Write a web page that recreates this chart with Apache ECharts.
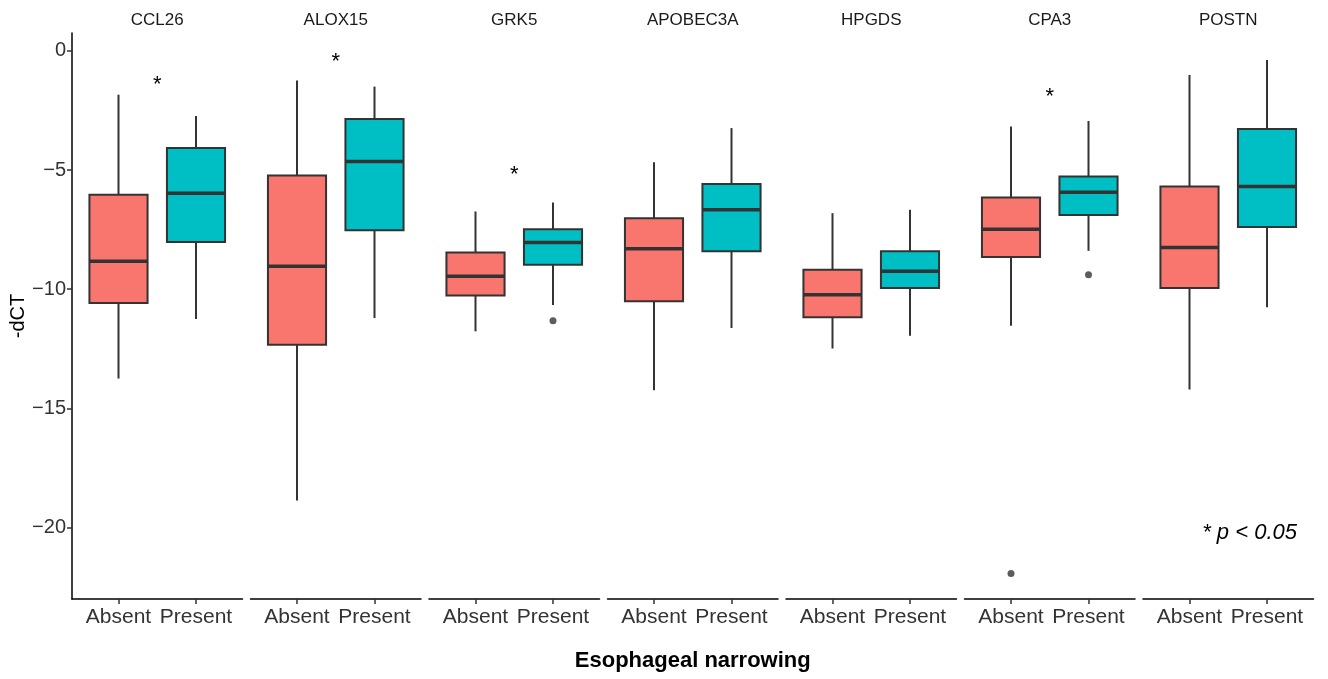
<!DOCTYPE html>
<html>
<head>
<meta charset="utf-8">
<script src="https://cdn.jsdelivr.net/npm/echarts@6/dist/echarts.min.js"></script>
<style>
  html, body { margin: 0; padding: 0; background: #ffffff; }
  #chart { width: 1328px; height: 679px; }
</style>
</head>
<body>
<div id="chart"></div>
<script>
// Gene panels and the two groups drawn in each
const genes = ['CCL26', 'ALOX15', 'GRK5', 'APOBEC3A', 'HPGDS', 'CPA3', 'POSTN'];
const groups = ['Absent', 'Present'];

// Box statistics per gene: [lower whisker, Q1, median, Q3, upper whisker]
const absentStats = [
  [-13.75, -10.58, -8.83, -6.04, -1.84],
  [-18.87, -12.33, -9.04, -5.23, -1.24],
  [-11.77, -10.27, -9.46, -8.46, -6.74],
  [-14.24, -10.51, -8.30, -7.02, -4.67],
  [-12.49, -11.18, -10.23, -9.18, -6.81],
  [-11.53, -8.65, -7.48, -6.15, -3.17],
  [-14.21, -9.95, -8.25, -5.69, -1.01]
];
const presentStats = [
  [-11.25, -8.02, -5.97, -4.08, -2.73],
  [-11.21, -7.53, -4.64, -2.86, -1.50],
  [-10.66, -8.97, -8.04, -7.48, -6.36],
  [-11.63, -8.41, -6.67, -5.59, -3.24],
  [-11.95, -9.95, -9.25, -8.41, -6.67],
  [-8.39, -6.89, -5.93, -5.27, -2.94],
  [-10.76, -7.39, -5.69, -3.28, -0.38]
];

// Outlying points: [gene index, group position (1 = Absent, 2 = Present), value]
const outliers = [
  [2, 2, -11.32],
  [5, 1, -21.93],
  [5, 2, -9.39]
];

// Significance marks placed between the two boxes: [gene index, value]
const sigMarks = [
  [0, -1.43],
  [1, -0.46],
  [2, -5.20],
  [5, -1.94]
];

const yTicks = [-20, -15, -10, -5, 0];
const yRange = [-23, 0.75];

// ---- styling / layout ----
const fills = ['#F8766D', '#00BFC4'];
const ink = '#333333';
const fontFamily = '"Liberation Sans", Arial, Helvetica, sans-serif';
const panelLeft = 72, panelStep = 178.5, panelWidth = 170.5;
const panelTop = 33, panelHeight = 566;
const boxHalf = 0.375;

const minusFmt = v => (v < 0 ? '\u2212' + Math.abs(v) : String(v));

function renderBox(params, api) {
  const x = api.value(0);
  const lo = api.value(1), q1 = api.value(2), med = api.value(3), q3 = api.value(4), hi = api.value(5);
  const tl = api.coord([x - boxHalf, q3]);
  const br = api.coord([x + boxHalf, q1]);
  const pHi = api.coord([x, hi]), pQ3 = api.coord([x, q3]);
  const pLo = api.coord([x, lo]), pQ1 = api.coord([x, q1]);
  const mL = api.coord([x - boxHalf, med]), mR = api.coord([x + boxHalf, med]);
  const whisker = { stroke: ink, lineWidth: 2 };
  return {
    type: 'group',
    children: [
      { type: 'line', shape: { x1: pHi[0], y1: pHi[1], x2: pQ3[0], y2: pQ3[1] }, style: whisker },
      { type: 'line', shape: { x1: pLo[0], y1: pLo[1], x2: pQ1[0], y2: pQ1[1] }, style: whisker },
      { type: 'rect', shape: { x: tl[0], y: tl[1], width: br[0] - tl[0], height: br[1] - tl[1] },
        style: { fill: fills[Math.round(x) - 1], stroke: ink, lineWidth: 2 } },
      { type: 'line', shape: { x1: mL[0], y1: mL[1], x2: mR[0], y2: mR[1] },
        style: { stroke: ink, lineWidth: 3.5 } }
    ]
  };
}

function renderMark(params, api) {
  const p = api.coord([api.value(0), api.value(1)]);
  return {
    type: 'text',
    x: p[0], y: p[1],
    style: { text: '*', fill: '#000', font: '22px ' + fontFamily, align: 'center', verticalAlign: 'middle' }
  };
}

const grid = [], xAxis = [], yAxis = [], series = [], graphic = [];

genes.forEach((gene, i) => {
  const left = panelLeft + i * panelStep;
  grid.push({ left: left, top: panelTop, width: panelWidth, height: panelHeight });

  xAxis.push({
    type: 'value', gridIndex: i, min: 0.4, max: 2.6,
    axisLine: { show: true, onZero: false, lineStyle: { color: '#000', width: 1.5 } },
    axisTick: { show: true, customValues: [1, 2], length: 5, lineStyle: { color: ink, width: 1.5 } },
    axisLabel: { show: true, customValues: [1, 2], formatter: v => groups[Math.round(v) - 1],
      color: '#333333', fontSize: 21, fontFamily: fontFamily, margin: 8 },
    splitLine: { show: false },
    name: i === 3 ? 'Esophageal narrowing' : '',
    nameLocation: 'middle', nameGap: 51,
    nameTextStyle: { color: '#000', fontSize: 22, fontWeight: 'bold', fontFamily: fontFamily }
  });

  yAxis.push({
    type: 'value', gridIndex: i, min: yRange[0], max: yRange[1],
    show: i === 0,
    axisLine: { show: true, onZero: false, lineStyle: { color: '#000', width: 1.5 } },
    axisTick: { show: true, customValues: yTicks, length: 5, lineStyle: { color: ink, width: 1.5 } },
    axisLabel: { show: true, customValues: yTicks, formatter: minusFmt,
      color: '#333333', fontSize: 20, fontFamily: fontFamily, margin: 6 },
    splitLine: { show: false },
    name: i === 0 ? '-dCT' : '',
    nameLocation: 'middle', nameRotate: 90, nameGap: 37,
    nameTextStyle: { color: '#000', fontSize: 20, fontFamily: fontFamily }
  });

  series.push({
    type: 'custom', xAxisIndex: i, yAxisIndex: i,
    renderItem: renderBox,
    encode: { x: 0, y: [1, 2, 3, 4, 5] },
    data: [[1].concat(absentStats[i]), [2].concat(presentStats[i])],
    silent: true
  });

  series.push({
    type: 'scatter', xAxisIndex: i, yAxisIndex: i,
    symbolSize: 7, itemStyle: { color: ink },
    data: outliers.filter(o => o[0] === i).map(o => [o[1], o[2]]),
    silent: true
  });

  series.push({
    type: 'custom', xAxisIndex: i, yAxisIndex: i,
    renderItem: renderMark,
    encode: { x: 0, y: 1 },
    data: sigMarks.filter(m => m[0] === i).map(m => [1.5, m[1]]),
    silent: true
  });

  // strip label above each panel
  graphic.push({
    type: 'text', x: left + panelWidth / 2, y: 20,
    style: { text: gene, fill: '#1a1a1a', font: '17px ' + fontFamily, align: 'center', verticalAlign: 'middle' }
  });
});

graphic.push({
  type: 'text', x: 1297, y: 533,
  style: { text: '* p < 0.05', fill: '#000', font: 'italic 22px ' + fontFamily, align: 'right', verticalAlign: 'middle' }
});

const chart = echarts.init(document.getElementById('chart'), null, { renderer: 'canvas' });
chart.setOption({
  animation: false,
  backgroundColor: '#ffffff',
  grid: grid,
  xAxis: xAxis,
  yAxis: yAxis,
  series: series,
  graphic: graphic
});
</script>
</body>
</html>
